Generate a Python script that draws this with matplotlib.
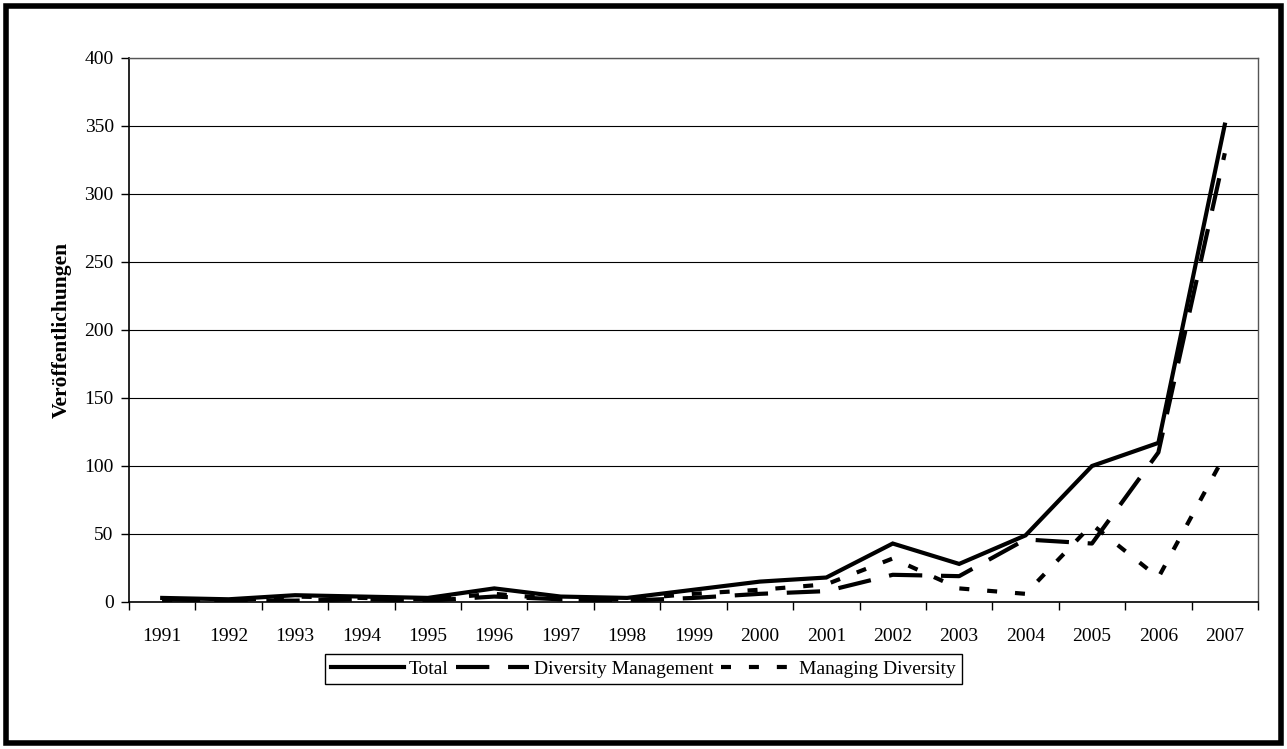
import matplotlib
matplotlib.use("Agg")
import matplotlib.pyplot as plt
from matplotlib.patches import Rectangle

years = ["1991", "1992", "1993", "1994", "1995", "1996", "1997", "1998", "1999",
         "2000", "2001", "2002", "2003", "2004", "2005", "2006", "2007"]
total = [3, 2, 5, 4, 3, 10, 4, 3, 9, 15, 18, 43, 28, 49, 100, 117, 351]
diversity_management = [2, 1, 1, 2, 1, 4, 2, 1, 3, 6, 8, 20, 19, 46, 43, 110, 330]
managing_diversity = [1, 1, 4, 3, 2, 6, 2, 2, 6, 9, 13, 32, 10, 6, 57, 18, 108]
yticks = [0, 50, 100, 150, 200, 250, 300, 350, 400]

plt.rcParams['font.family'] = ['Liberation Serif', 'DejaVu Serif']

W, H = 1287, 749
fig = plt.figure(figsize=(W / 100, H / 100), dpi=100)
ax = fig.add_axes([129 / W, 1 - 602 / H, (1258 - 129) / W, (602 - 58) / H])

x = list(range(len(years)))
lw = 3.0
ax.plot(x, total, color='black', lw=lw, solid_joinstyle='miter', label='Total', zorder=5)
ax.plot(x, diversity_management, color='black', lw=lw, dashes=(8, 4.5),
        dash_capstyle='butt', label='Diversity Management', zorder=4)
ax.plot(x, managing_diversity, color='black', lw=lw, dashes=(2.4, 4.3),
        dash_capstyle='butt', label='Managing Diversity', zorder=3)

ax.set_xlim(-0.5, len(years) - 0.5)
ax.set_ylim(0, 400)
ax.set_yticks(yticks)
ax.set_yticklabels([str(v) for v in yticks], fontsize=14)
ax.set_xticks(x)
ax.set_xticklabels(years, fontsize=14)
ax.tick_params(axis='x', which='major', length=0, pad=19)
ax.set_xticks([i - 0.5 for i in range(len(years) + 1)], minor=True)
ax.tick_params(axis='x', which='minor', length=6, width=1, direction='out', color='black')
ax.tick_params(axis='y', length=6, width=1, direction='out', pad=5)
ax.grid(axis='y', color='black', lw=0.8)
ax.set_axisbelow(True)
for s in ['left', 'bottom']:
    ax.spines[s].set_linewidth(1.2)
    ax.spines[s].set_color('black')
for s in ['top', 'right']:
    ax.spines[s].set_linewidth(1.0)
    ax.spines[s].set_color('#555555')

ax.set_ylabel('Veröffentlichungen', fontsize=15.5, fontweight='bold', labelpad=9)

leg = fig.legend(loc='center', bbox_to_anchor=(643.5 / W, 1 - 669 / H), ncol=3,
                 fontsize=14, frameon=True, fancybox=False, edgecolor='black',
                 framealpha=1, handlelength=3.75, handletextpad=0.25, columnspacing=0.4,
                 borderpad=0.3)
leg.get_frame().set_linewidth(1.0)

fig.patches.append(Rectangle((6 / W, 6 / H), 1 - 12 / W, 1 - 12 / H, transform=fig.transFigure,
                             fill=False, edgecolor='black', lw=4))

fig.savefig('out.png', dpi=100)
